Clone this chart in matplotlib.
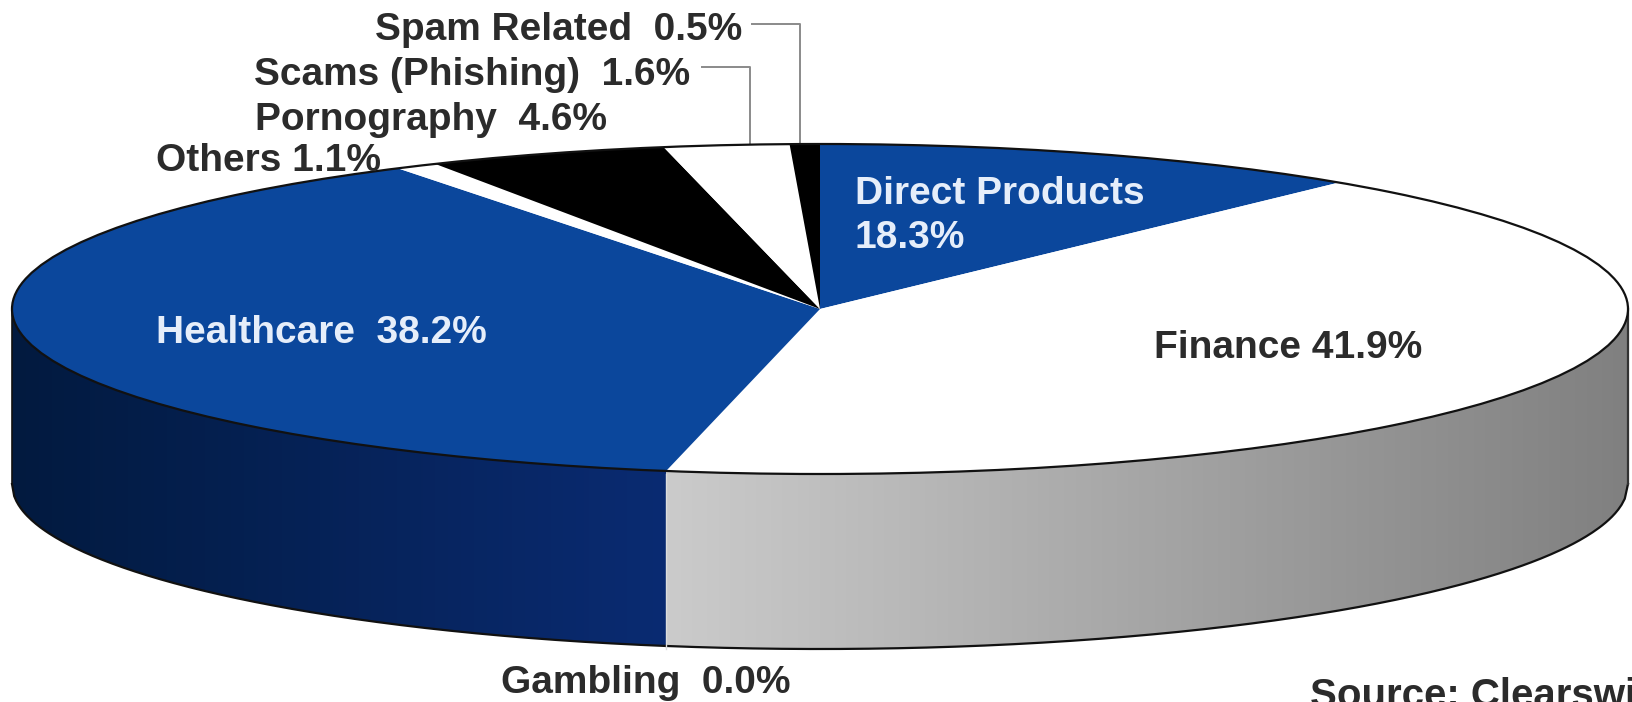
import numpy as np
import matplotlib
matplotlib.use("Agg")
import matplotlib.pyplot as plt
from matplotlib.colors import LinearSegmentedColormap
from matplotlib.patches import Ellipse, Polygon

plt.rcParams['font.family'] = ['Liberation Sans', 'DejaVu Sans']

# slices as drawn in the picture (the printed labels do not add up to 100)
categories = ["Direct Products", "Finance", "Gambling", "Healthcare",
              "Others", "Pornography", "Scams (Phishing)", "Spam Related"]
drawn_shares = [11.1, 41.95, 0.0, 38.2, 0.85, 4.8, 2.5, 0.6]
printed_values = ["18.3%", "41.9%", "0.0%", "38.2%", "1.1%", "4.6%", "1.6%", "0.5%"]
slice_colors = ["#0b479c", "#ffffff", "#ffffff", "#0b479c",
                "#ffffff", "#000000", "#ffffff", "#000000"]

W, H = 1633, 702
cx, cy, rx, ry = 820, 309, 808, 165
depth = 175

fig = plt.figure(figsize=(W / 100, H / 100), dpi=100, facecolor="white")

# pixel axes for the side wall and the text
ax = fig.add_axes([0, 0, 1, 1], zorder=0)
ax.set_xlim(0, W)
ax.set_ylim(H, 0)
ax.axis("off")

# pie axes sits exactly on the top ellipse
pie_ax = fig.add_axes([(cx - rx) / W, 1 - (cy + ry) / H, 2 * rx / W, 2 * ry / H], zorder=1)
wedges, _ = pie_ax.pie(drawn_shares, colors=slice_colors, startangle=90, counterclock=False,
                       radius=1, wedgeprops=dict(linewidth=0))
pie_ax.set_aspect("auto")
pie_ax.set_xlim(-1, 1)
pie_ax.set_ylim(-1, 1)
pie_ax.axis("off")
pie_ax.add_patch(Ellipse((0, 0), 2, 2, fill=False, edgecolor="#111111", lw=1.6, clip_on=False))

# the wall changes colour where Finance meets Healthcare
split_angle = wedges[3].theta2
x_split = cx + rx * np.cos(np.radians(split_angle))


def wall_part(x0, x1, c0, c1):
    xs = np.linspace(x0, x1, 300)
    top = cy + ry * np.sqrt(np.clip(1 - ((xs - cx) / rx) ** 2, 0, 1))
    pts = np.r_[np.c_[xs, top], np.c_[xs[::-1], top[::-1] + depth]]
    poly = Polygon(pts, closed=True, facecolor="none", edgecolor="none", transform=ax.transData)
    ax.add_patch(poly)
    cmap = LinearSegmentedColormap.from_list("wall", [c0, c1])
    im = ax.imshow(np.linspace(0, 1, 256)[None, :], cmap=cmap, aspect="auto",
                   extent=[x0, x1, H, 0], zorder=1)
    im.set_clip_path(poly)
    ax.set_xlim(0, W)
    ax.set_ylim(H, 0)
    ax.plot(xs, top + depth, color="#111111", lw=1.6, zorder=2)


wall_part(cx - rx, x_split, "#021a3f", "#0a2b72")
wall_part(x_split, cx + rx, "#cbcbcb", "#808080")
ax.plot([cx - rx, cx - rx], [cy, cy + depth], color="#111111", lw=1.2, zorder=2)
ax.plot([cx + rx, cx + rx], [cy, cy + depth], color="#333333", lw=1.6, zorder=2)
ax.plot([x_split, x_split], [474, 474 + depth], color="#dddddd", lw=1.0, zorder=2)

# leader lines for the two thin slices
ax.plot([752, 800, 800], [24, 24, 147], color="#8a8a8a", lw=1.4, zorder=2)
ax.plot([702, 750, 750], [67, 67, 147], color="#8a8a8a", lw=1.4, zorder=2)

dark = "#2b2b2b"
light = "#e6eefa"
fs = 28


def label(x, y, s, color=dark, ha="left", size=fs):
    pie_ax.text(x, y, s, transform=ax.transData, color=color, ha=ha, va="center",
                fontsize=size, fontweight="bold", clip_on=False)


label(742, 30, f"{categories[7]}  {printed_values[7]}", ha="right")
label(690, 75, f"{categories[6]}  {printed_values[6]}", ha="right")
label(607, 120, f"{categories[5]}  {printed_values[5]}", ha="right")
label(156, 161, f"{categories[4]} {printed_values[4]}")
label(855, 194, categories[0], color=light)
label(855, 238, printed_values[0], color=light)
label(156, 333, f"{categories[3]}  {printed_values[3]}", color=light)
label(1154, 348, f"{categories[1]} {printed_values[1]}")
label(501, 683, f"{categories[2]}  {printed_values[2]}")
label(1310, 696, "Source: Clearswift", size=29)

fig.savefig("out.png", dpi=100)
